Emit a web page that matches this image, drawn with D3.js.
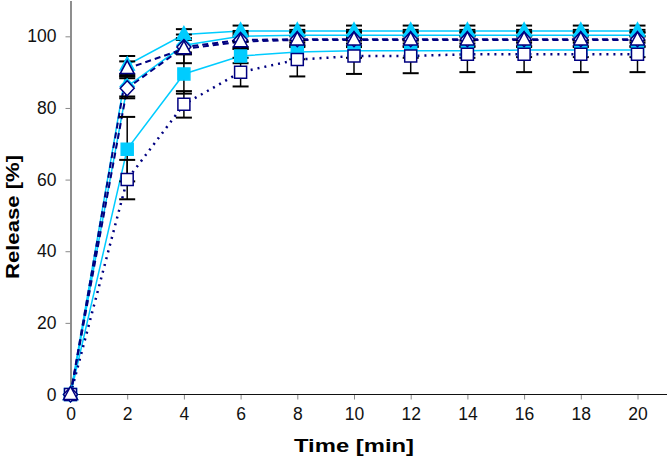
<!DOCTYPE html>
<html><head><meta charset="utf-8">
<script src="https://cdn.jsdelivr.net/npm/d3@7"></script>
<style>body{margin:0;background:#fff;}svg{display:block;font-family:"Liberation Sans",Arial,sans-serif;}</style>
</head><body>
<svg id="c" width="667" height="461"></svg>
<script>
const times = [0, 2, 4, 6, 8, 10, 12, 14, 16, 18, 20];
const xTicks = [0, 2, 4, 6, 8, 10, 12, 14, 16, 18, 20];
const yTicks = [0, 20, 40, 60, 80, 100];

const triFilled = [0, 92, 100.5, 101.5, 101.5, 101.5, 101.5, 101.5, 101.5, 101.5, 101.5];
const triFilledErr = [0, 2.5, 1.5, 1.5, 1.5, 1.5, 1.5, 1.5, 1.5, 1.5, 1.5];
const triOpen = [0, 91, 96.5, 98.5, 99, 99, 99, 99, 99, 99, 99];
const triOpenErr = [0, 2, 4, 2, 2, 2, 2, 2, 2, 2, 2];
const diaFilled = [0, 86, 97.5, 100, 100.3, 100.3, 100.3, 100.3, 100.3, 100.3, 100.3];
const diaFilledErr = [0, 2.8, 2, 1.5, 1.5, 1.5, 1.5, 1.5, 1.5, 1.5, 1.5];
const diaOpen = [0, 85.5, 97, 99, 99.2, 99.2, 99.2, 99.2, 99.2, 99.2, 99.2];
const diaOpenErr = [0, 2.8, 2, 2, 2, 2, 2, 2, 2, 2, 2];
const sqFilled = [0, 68.5, 89.5, 94.5, 95.6, 96, 96, 96, 96.2, 96.2, 96.2];
const sqFilledErr = [0, 9, 5.5, 2, 2, 2, 2, 2, 2, 2, 2];
const sqOpen = [0, 60, 81, 90, 93.5, 94.5, 94.5, 95, 95, 95, 95];
const sqOpenErr = [0, 5.5, 3.7, 4, 4.7, 5, 4.8, 5, 5, 5, 5];

const CYAN = "#00ccff", NAVY = "#000080";
const series = [
  {v: sqFilled, e: sqFilledErr, shape: "square", fill: CYAN, stroke: CYAN, line: CYAN, dash: null, lw: 1.5},
  {v: diaFilled, e: diaFilledErr, shape: "diamond", fill: CYAN, stroke: CYAN, line: CYAN, dash: null, lw: 1.5},
  {v: triFilled, e: triFilledErr, shape: "triangle", fill: CYAN, stroke: CYAN, line: CYAN, dash: null, lw: 1.5},
  {v: sqOpen, e: sqOpenErr, shape: "square", fill: "#fff", stroke: NAVY, line: NAVY, dash: "2,5", lw: 2.5},
  {v: diaOpen, e: diaOpenErr, shape: "diamond", fill: "#fff", stroke: NAVY, line: NAVY, dash: "6,4", lw: 2},
  {v: triOpen, e: triOpenErr, shape: "triangle", fill: "#fff", stroke: NAVY, line: NAVY, dash: "6,4", lw: 2}
];

const svg = d3.select("#c");
const x = d3.scaleLinear().domain([0, 20]).range([70.5, 637.5]);
const y = d3.scaleLinear().domain([0, 110]).range([394.5, 0.5]);

// axes
const yAxis = svg.append("g").attr("transform", "translate(70.5,0)")
  .call(d3.axisLeft(y).tickValues(yTicks).tickSize(5).tickSizeOuter(0).tickPadding(9));
yAxis.select(".domain").attr("stroke", "#444").attr("stroke-width", 1.2);
yAxis.selectAll(".tick line").attr("stroke", "#888");
yAxis.selectAll(".tick text").attr("font-size", 17.5).attr("fill", "#111").attr("font-family", "Liberation Sans, Arial, sans-serif");

const xAxis = svg.append("g").attr("transform", "translate(0,394.5)")
  .call(d3.axisBottom(x).tickValues(xTicks).tickSize(5).tickSizeOuter(0).tickPadding(8));
xAxis.select(".domain").remove();
xAxis.selectAll(".tick line").attr("stroke", "#888");
xAxis.selectAll(".tick text").attr("font-size", 17.5).attr("fill", "#111").attr("font-family", "Liberation Sans, Arial, sans-serif");
svg.append("line").attr("x1", 70).attr("x2", 667).attr("y1", 394.5).attr("y2", 394.5).attr("stroke", "#111").attr("stroke-width", 1.2);

svg.append("text").attr("x", 354).attr("y", 452).attr("text-anchor", "middle")
  .attr("font-weight", "bold").attr("font-size", 18.5)
  .attr("textLength", 120).attr("lengthAdjust", "spacingAndGlyphs").text("Time [min]");
svg.append("text").attr("transform", "translate(19,217) rotate(-90)").attr("text-anchor", "middle")
  .attr("font-weight", "bold").attr("font-size", 18.5)
  .attr("textLength", 124).attr("lengthAdjust", "spacingAndGlyphs").text("Release [%]");

// lines
const line = d3.line().x((d, i) => x(times[i])).y(d => y(d));
series.forEach(s => {
  svg.append("path").datum(s.v).attr("d", line).attr("fill", "none")
    .attr("stroke", s.line).attr("stroke-width", s.lw)
    .attr("stroke-dasharray", s.dash);
});

// error bars
series.forEach(s => {
  const g = svg.append("g").attr("stroke", "#000").attr("stroke-width", 1.5);
  s.v.forEach((v, i) => {
    if (!s.e[i]) return;
    const cx = x(times[i]), t = y(v + s.e[i]), b = y(v - s.e[i]);
    g.append("line").attr("x1", cx).attr("x2", cx).attr("y1", t).attr("y2", b);
    g.append("line").attr("x1", cx - 8).attr("x2", cx + 8).attr("y1", t).attr("y2", t).attr("stroke-width", 2);
    g.append("line").attr("x1", cx - 8).attr("x2", cx + 8).attr("y1", b).attr("y2", b).attr("stroke-width", 2);
  });
});

// markers
function shapePath(shape) {
  if (shape === "square") return "M-6,-6L6,-6L6,6L-6,6Z";
  if (shape === "diamond") return "M0,-7.5L7,0L0,7.5L-7,0Z";
  return "M0,-8L7,5L-7,5Z";
}
series.forEach(s => {
  svg.append("g").selectAll("path").data(s.v).join("path")
    .attr("transform", (d, i) => `translate(${x(times[i])},${y(d)})`)
    .attr("d", shapePath(s.shape))
    .attr("fill", s.fill).attr("stroke", s.stroke).attr("stroke-width", 1.5);
});
</script>
</body></html>
